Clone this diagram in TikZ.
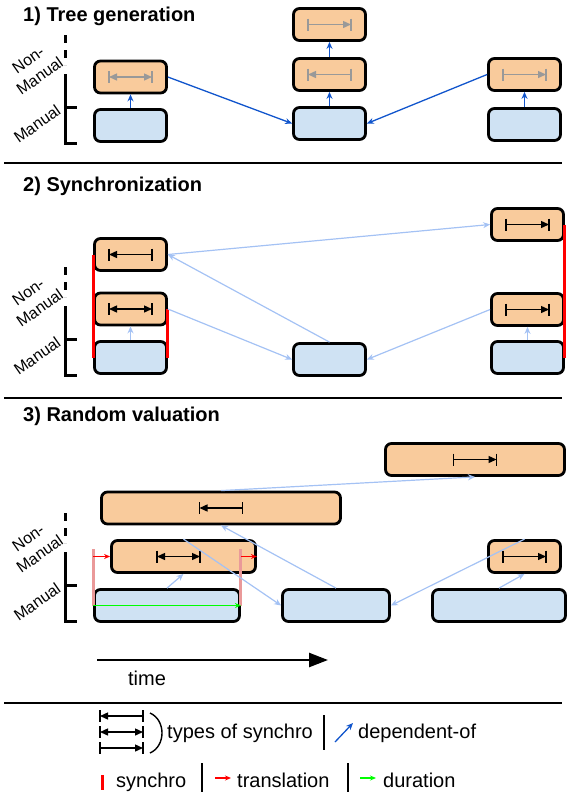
\documentclass[tikz,border=0pt]{standalone}
\usepackage{fontspec}
\setmainfont{Liberation Sans}
\usetikzlibrary{arrows.meta}

\definecolor{nmfill}{HTML}{F9CB9C}
\definecolor{mfill}{HTML}{CFE2F3}
\definecolor{depblue}{HTML}{1155CC}
\definecolor{deplight}{HTML}{A4C2F4}
\definecolor{syncred}{HTML}{FF0000}
\definecolor{syncpink}{HTML}{EA9999}
\definecolor{durgreen}{HTML}{00FF00}
\definecolor{symgray}{HTML}{999999}

\tikzset{
  tbox/.style={draw, line width=2.8pt, rounded corners=6pt, inner sep=0pt,
    minimum width=72pt, minimum height=32pt},
  nman/.style={tbox, fill=nmfill},
  man/.style={tbox, fill=mfill},
  sectitle/.style={font=\bfseries\fontsize{20}{24}\selectfont, inner sep=0pt, anchor=base west},
  legtxt/.style={font=\fontsize{20}{24}\selectfont, inner sep=0pt, anchor=base west},
  axlab/.style={font=\fontsize{16}{20}\selectfont, rotate=35, align=center, inner sep=0pt},
  axline/.style={line width=3pt},
  dep/.style={depblue, line width=1.3pt, -{Stealth[length=7pt,width=6pt]}},
  deplt/.style={deplight, line width=1.2pt, -{Stealth[length=7pt,width=6pt]}},
  syncline/.style={syncred, line width=3pt},
  syncsoft/.style={syncpink, line width=3pt},
  transl/.style={syncred, line width=1.2pt, -{Stealth[length=6pt,width=5pt]}},
  durat/.style={durgreen, line width=1.2pt, -{Stealth[length=6pt,width=5pt]}},
  sepline/.style={line width=1.2pt},
  symline/.style={line width=1.4pt},
  % interval symbols: |<-|, |<->|, |->|
  pics/synL/.style={code={
    \draw[symline] (-21.5,-6) -- (-21.5,6) (21.5,-6) -- (21.5,6);
    \draw[symline,-{Triangle[length=8pt,width=7pt]}] (21.5,0) -- (-21.5,0);}},
  pics/synB/.style={code={
    \draw[symline] (-21.5,-6) -- (-21.5,6) (21.5,-6) -- (21.5,6);
    \draw[symline,{Triangle[length=8pt,width=7pt]}-{Triangle[length=8pt,width=7pt]}] (-21.5,0) -- (21.5,0);}},
  pics/synR/.style={code={
    \draw[symline] (-21.5,-6) -- (-21.5,6) (21.5,-6) -- (21.5,6);
    \draw[symline,-{Triangle[length=8pt,width=7pt]}] (-21.5,0) -- (21.5,0);}}
}

\begin{document}
\begin{tikzpicture}[x=1pt,y=-1pt]
\useasboundingbox (0,0) rectangle (567,796);

% section titles and separators
\node[sectitle] (t1) at (23,21) {1) Tree generation};
\node[sectitle] (t2) at (23,191) {2) Synchronization};
\node[sectitle] (t3) at (23,421) {3) Random valuation};
\draw[sepline] (4,163) -- (562,163);
\draw[sepline] (4,398) -- (562,398);
\draw[sepline] (4,703) -- (562,703);

% Non-Manual / Manual axis
\foreach \dy in {0,232,478}{
  \draw[axline, dash pattern=on 8pt off 7pt] (65,35+\dy) -- (65,65+\dy);
  \draw[axline] (65,74+\dy) -- (65,143+\dy) -- (77,143+\dy) (65,107+\dy) -- (77,107+\dy);
  \node[axlab] (nmlab\dy) at (34,68+\dy) {Non-\\Manual};
  \node[axlab] (mlab\dy) at (37,124+\dy) {Manual};
}

% 1) tree generation
\node[nman] (n1l) at (130.5,77) {};
\node[man]  (m1l) at (130.5,125.5) {};
\node[nman] (n1t) at (329.5,24.5) {};
\node[nman] (n1c) at (329.5,74.5) {};
\node[man]  (m1c) at (329.5,123.5) {};
\node[nman] (n1r) at (524.5,74.5) {};
\node[man]  (m1r) at (524.5,124.5) {};
\pic[color=symgray] at (n1l) {synB};
\pic[color=symgray] at (n1t) {synR};
\pic[color=symgray] at (n1c) {synL};
\pic[color=symgray] at (n1r) {synR};
\draw[dep] (m1l) -- (n1l);
\draw[dep] (m1c) -- (n1c);
\draw[dep] (n1c) -- (n1t);
\draw[dep] (m1r) -- (n1r);
\draw[dep] (n1l.east) -- (m1c.west);
\draw[dep] (n1r.west) -- (m1c.east);

% 2) synchronization
\node[nman] (n2a) at (130.5,254.5) {};
\node[nman] (n2b) at (130.5,309) {};
\node[man]  (m2l) at (130.5,357.5) {};
\node[man]  (m2c) at (329.5,359.5) {};
\node[nman] (n2r) at (527.5,224.5) {};
\node[nman] (n2s) at (527.5,309.5) {};
\node[man]  (m2r) at (527.5,357.5) {};
\pic at (n2a) {synL};
\pic at (n2b) {synB};
\pic at (n2r) {synR};
\pic at (n2s) {synR};
\draw[syncline] (n2a.west) -- (m2l.west);
\draw[syncline] (n2b.east) -- (m2l.east);
\draw[syncline] (n2r.east) -- (m2r.east);
\draw[deplt] (m2l) -- (n2b);
\draw[deplt] (m2r) -- (n2s);
\draw[deplt] (n2a.east) -- (n2r.west);
\draw[deplt] (m2c.north) -- (n2a.east);
\draw[deplt] (n2b.east) -- (m2c.west);
\draw[deplt] (n2s.west) -- (m2c.east);

% 3) random valuation
\node[nman, minimum width=179pt] (n3t) at (475,459.5) {};
\node[nman, minimum width=239pt] (n3b) at (221,508) {};
\node[nman, minimum width=144pt] (n3l) at (183.5,556.5) {};
\node[nman] (n3s) at (524.5,556.5) {};
\node[man, minimum width=145pt] (m3l) at (167,605.5) {};
\node[man, minimum width=107pt] (m3c) at (336,605.5) {};
\node[man, minimum width=133pt] (m3r) at (499,605.5) {};
\pic at (n3t) {synR};
\pic at (n3b) {synL};
\pic at ([xshift=-5pt]n3l.center) {synB};
\pic at (n3s) {synR};
\draw[syncsoft] (m3l.west) -- ++(0,-57);
\draw[syncsoft] (m3l.east) -- ++(0,-57);
\draw[transl] (m3l.west |- n3l.west) -- (n3l.west);
\draw[transl] (m3l.east |- n3l.east) -- (n3l.east);
\draw[durat] (m3l.west) -- (m3l.east);
\draw[deplt] (m3l.north) -- (n3l.south);
\draw[deplt] (n3b.north) -- (n3t.south);
\draw[deplt] (m3c.north) -- (n3b.south);
\draw[deplt] (n3l.north) -- (m3c.west);
\draw[deplt] (n3s.north) -- (m3c.east);
\draw[deplt] (m3r.north) -- (n3s.south);

% time axis
\coordinate (t0) at (97,660);
\coordinate (t1) at (328,660);
\draw[line width=2.5pt, -{Triangle[length=19pt,width=14pt]}] (t0) -- (t1);
\node[font=\fontsize{20}{24}\selectfont, inner sep=0pt] (tlab) at (147,678) {time};

% legend
\pic at (121.5,716) {synL};
\pic at (121.5,732) {synB};
\pic at (121.5,748) {synR};
\draw[symline] (150,713) .. controls (166,720) and (166,746) .. (150,753);
\node[legtxt] (ltypes) at (167,738) {types of synchro};
\draw[line width=1.2pt] (324,715) -- (324,750);
\draw[dep] (335,742) -- (353,723);
\node[legtxt] (ldep) at (358,738) {dependent-of};
\draw[syncline] (102,775) -- (102,790);
\node[legtxt] (lsync) at (116,787) {synchro};
\draw[line width=1.2pt] (202,763) -- (202,792);
\draw[transl] (215,778) -- (231,778);
\node[legtxt] (ltransl) at (237,787) {translation};
\draw[line width=1.2pt] (348,763) -- (348,792);
\draw[durat] (360,778) -- (376,778);
\node[legtxt] (ldur) at (383,787) {duration};
\end{tikzpicture}
\end{document}
